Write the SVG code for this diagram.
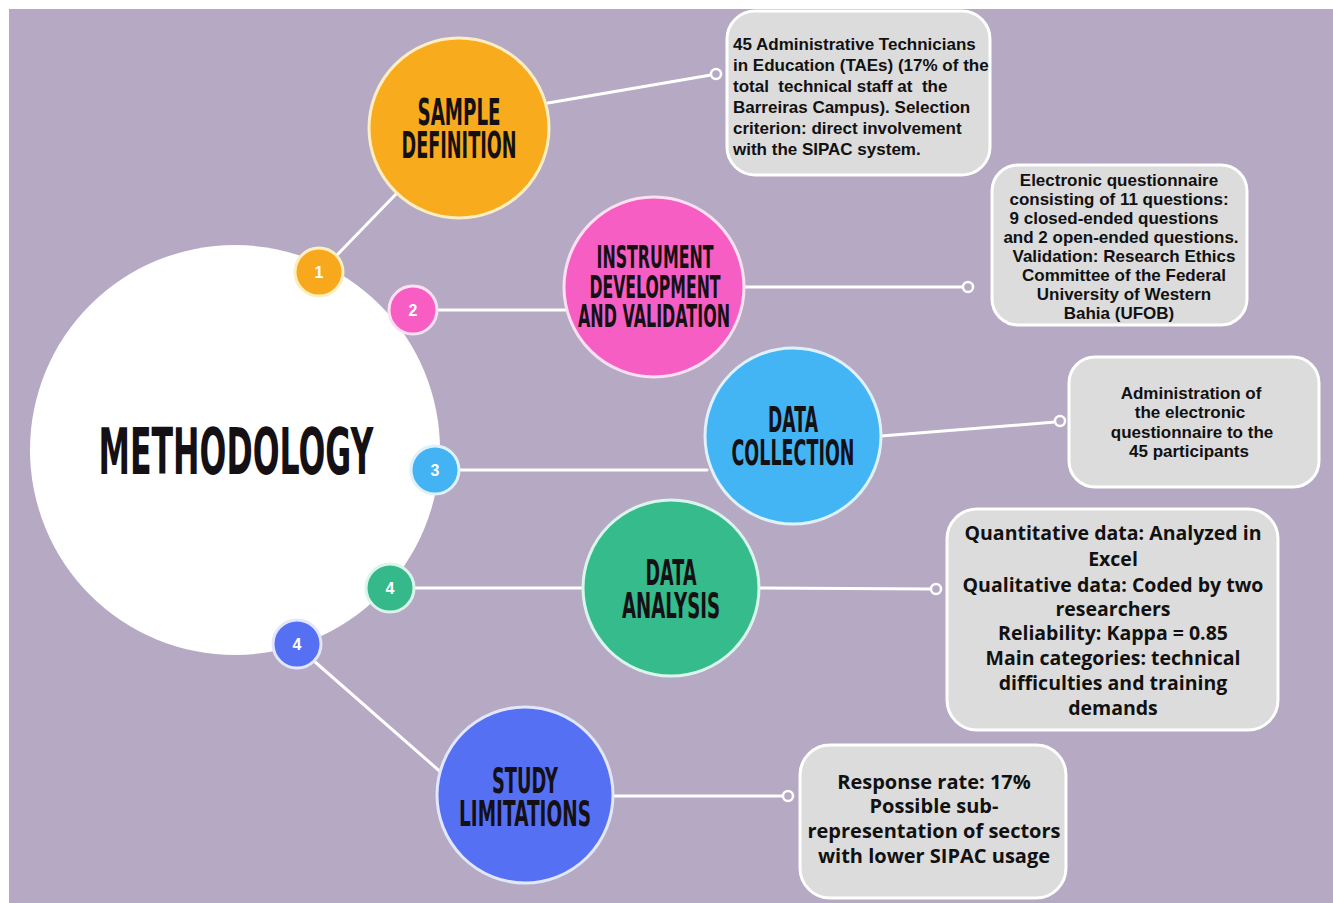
<svg xmlns="http://www.w3.org/2000/svg" width="1333" height="903" viewBox="0 0 1333 903">
  <style>
    .bg { fill: #b5a9c3; }
    .link { stroke: #ffffff; stroke-width: 3; fill: none; stroke-linecap: round; }
    .dot { fill: #b5a9c3; stroke: #ffffff; stroke-width: 2.5; }
    .box { fill: #dcdcdc; stroke: #ffffff; stroke-width: 3; }
    .head { font-family: "DejaVu Sans", "Liberation Sans", sans-serif; font-weight: bold; fill: #141014; text-anchor: middle; }
    .num { font-family: "Liberation Sans", Arial, sans-serif; font-weight: bold; font-size: 16px; fill: #ffffff; text-anchor: middle; }
    .note { font-family: "Liberation Sans", Arial, sans-serif; font-weight: bold; font-size: 17px; fill: #111111; }
    .note2 { font-family: "Open Sans", "Noto Sans", sans-serif; font-weight: bold; font-size: 19.5px; fill: #111111; text-anchor: middle; }
    .note3 { font-family: "Open Sans", "Noto Sans", sans-serif; font-weight: bold; font-size: 20px; fill: #111111; text-anchor: middle; }
  </style>

  <!-- page -->
  <rect x="0" y="0" width="1333" height="903" fill="#ffffff"/>
  <rect class="bg" x="9" y="9" width="1324" height="894"/>

  <!-- connectors -->
  <g id="connectors">
    <line class="link" x1="337" y1="255" x2="398" y2="192"/>
    <line class="link" x1="548" y1="103" x2="711" y2="75"/>
    <line class="link" x1="437" y1="310" x2="566" y2="310"/>
    <line class="link" x1="744" y1="287" x2="963" y2="287"/>
    <line class="link" x1="459" y1="470" x2="707" y2="470"/>
    <line class="link" x1="881" y1="436" x2="1055" y2="422"/>
    <line class="link" x1="414" y1="588" x2="585" y2="588"/>
    <line class="link" x1="759" y1="588" x2="931" y2="589"/>
    <line class="link" x1="314" y1="661" x2="452" y2="782"/>
    <line class="link" x1="612" y1="796" x2="783" y2="796"/>
    <circle class="dot" cx="716" cy="74" r="5"/>
    <circle class="dot" cx="968" cy="287" r="5"/>
    <circle class="dot" cx="1060" cy="421" r="5"/>
    <circle class="dot" cx="936" cy="589" r="5"/>
    <circle class="dot" cx="788" cy="796" r="5"/>
  </g>

  <!-- central node -->
  <g id="methodology">
    <circle cx="235" cy="450" r="205" fill="#ffffff"/>
    <text class="head" transform="translate(236 474) scale(0.5 1)" font-size="64" textLength="550" lengthAdjust="spacingAndGlyphs">METHODOLOGY</text>
  </g>

  <!-- step markers -->
  <g id="marker-1">
    <circle cx="319" cy="272" r="24" fill="#f8a81d" stroke="#fbeec0" stroke-width="3"/>
    <text class="num" x="319" y="278">1</text>
  </g>
  <g id="marker-2">
    <circle cx="413" cy="310" r="24" fill="#f75dc3" stroke="#fbe0f2" stroke-width="3"/>
    <text class="num" x="413" y="316">2</text>
  </g>
  <g id="marker-3">
    <circle cx="435" cy="470" r="24" fill="#43b3f3" stroke="#dff2fb" stroke-width="3"/>
    <text class="num" x="435" y="476">3</text>
  </g>
  <g id="marker-4a">
    <circle cx="390" cy="588" r="24" fill="#36b98a" stroke="#dcf5ec" stroke-width="3"/>
    <text class="num" x="390" y="594">4</text>
  </g>
  <g id="marker-4b">
    <circle cx="297" cy="644" r="24" fill="#5670f3" stroke="#e2e7fb" stroke-width="3"/>
    <text class="num" x="297" y="650">4</text>
  </g>

  <!-- stage nodes (condensed titles: half-width scale, exact length per line) -->
  <g id="sample-definition">
    <circle cx="459" cy="128" r="90" fill="#f8ab1c" stroke="#fbeec4" stroke-width="3"/>
    <text class="head" transform="translate(459 0) scale(0.5 1)" font-size="37"><tspan x="0" y="125" textLength="166" lengthAdjust="spacingAndGlyphs">SAMPLE</tspan><tspan x="0" y="158" textLength="230" lengthAdjust="spacingAndGlyphs">DEFINITION</tspan></text>
  </g>
  <g id="instrument">
    <circle cx="654" cy="287" r="90" fill="#f75ec4" stroke="#fbe0f2" stroke-width="3"/>
    <text class="head" transform="translate(655 0) scale(0.5 1)" font-size="32"><tspan x="0" y="268" textLength="234" lengthAdjust="spacingAndGlyphs">INSTRUMENT</tspan><tspan x="0" y="298" textLength="262" lengthAdjust="spacingAndGlyphs">DEVELOPMENT</tspan><tspan x="-2" y="327" textLength="304" lengthAdjust="spacingAndGlyphs">AND VALIDATION</tspan></text>
  </g>
  <g id="data-collection">
    <circle cx="793" cy="436" r="88" fill="#43b4f4" stroke="#dff2fb" stroke-width="3"/>
    <text class="head" transform="translate(793 0) scale(0.5 1)" font-size="35"><tspan x="0" y="432" textLength="100" lengthAdjust="spacingAndGlyphs">DATA</tspan><tspan x="0" y="465" textLength="246" lengthAdjust="spacingAndGlyphs">COLLECTION</tspan></text>
  </g>
  <g id="data-analysis">
    <circle cx="671" cy="588" r="88" fill="#36bb8c" stroke="#dcf5ec" stroke-width="3"/>
    <text class="head" transform="translate(671 0) scale(0.5 1)" font-size="35"><tspan x="0" y="585" textLength="102" lengthAdjust="spacingAndGlyphs">DATA</tspan><tspan x="0" y="618" textLength="196" lengthAdjust="spacingAndGlyphs">ANALYSIS</tspan></text>
  </g>
  <g id="study-limitations">
    <circle cx="525" cy="795" r="88" fill="#5670f4" stroke="#e2e7fb" stroke-width="3"/>
    <text class="head" transform="translate(525 0) scale(0.5 1)" font-size="35"><tspan x="0" y="793" textLength="132" lengthAdjust="spacingAndGlyphs">STUDY</tspan><tspan x="0" y="826" textLength="264" lengthAdjust="spacingAndGlyphs">LIMITATIONS</tspan></text>
  </g>

  <!-- detail boxes -->
  <g id="note-sample">
    <rect class="box" x="727" y="11" width="263" height="164" rx="28"/>
    <text class="note" x="733" y="50">45 Administrative Technicians</text>
    <text class="note" x="733" y="71">in Education (TAEs) (17% of the</text>
    <text class="note" x="733" y="92" xml:space="preserve">total  technical staff at  the</text>
    <text class="note" x="733" y="113">Barreiras Campus). Selection</text>
    <text class="note" x="733" y="134">criterion: direct involvement</text>
    <text class="note" x="733" y="155">with the SIPAC system.</text>
  </g>
  <g id="note-instrument">
    <rect class="box" x="992" y="165" width="255" height="160" rx="26"/>
    <g text-anchor="middle">
      <text class="note" x="1119" y="186">Electronic questionnaire</text>
      <text class="note" x="1119" y="205">consisting of 11 questions:</text>
      <text class="note" x="1114" y="224">9 closed-ended questions</text>
      <text class="note" x="1121" y="243">and 2 open-ended questions.</text>
      <text class="note" x="1124" y="262">Validation: Research Ethics</text>
      <text class="note" x="1124" y="281">Committee of the Federal</text>
      <text class="note" x="1124" y="300">University of Western</text>
      <text class="note" x="1119" y="319">Bahia (UFOB)</text>
    </g>
  </g>
  <g id="note-collection">
    <rect class="box" x="1069" y="357" width="250" height="130" rx="26"/>
    <g text-anchor="middle">
      <text class="note" x="1191" y="399">Administration of</text>
      <text class="note" x="1190" y="418">the electronic</text>
      <text class="note" x="1192" y="438">questionnaire to the</text>
      <text class="note" x="1189" y="457">45 participants</text>
    </g>
  </g>
  <g id="note-analysis">
    <rect class="box" x="947" y="509" width="331" height="221" rx="30"/>
    <text class="note2" x="1113" y="540">Quantitative data: Analyzed in</text>
    <text class="note2" x="1113" y="566">Excel</text>
    <text class="note2" x="1113" y="592">Qualitative data: Coded by two</text>
    <text class="note2" x="1113" y="616">researchers</text>
    <text class="note2" x="1113" y="640">Reliability: Kappa = 0.85</text>
    <text class="note2" x="1113" y="665">Main categories: technical</text>
    <text class="note2" x="1113" y="690">difficulties and training</text>
    <text class="note2" x="1113" y="715">demands</text>
  </g>
  <g id="note-limitations">
    <rect class="box" x="800" y="745" width="266" height="153" rx="30"/>
    <text class="note3" x="934" y="789">Response rate: 17%</text>
    <text class="note3" x="934" y="813">Possible sub-</text>
    <text class="note3" x="934" y="838">representation of sectors</text>
    <text class="note3" x="934" y="863">with lower SIPAC usage</text>
  </g>
</svg>
